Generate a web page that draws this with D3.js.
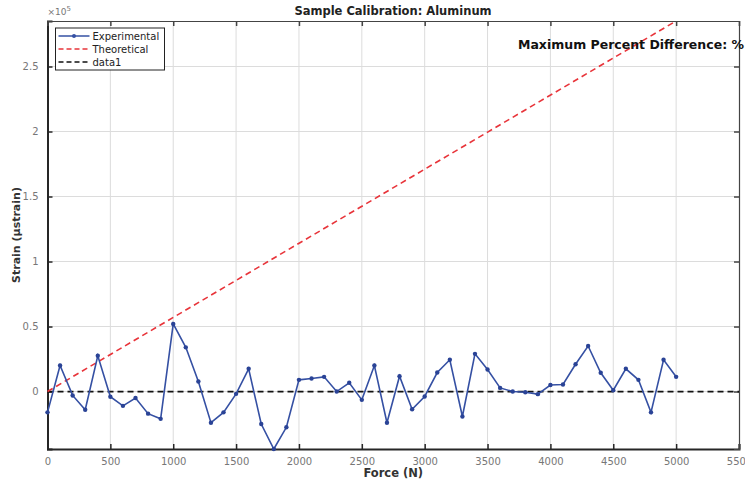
<!DOCTYPE html>
<html>
<head>
<meta charset="utf-8">
<script src="https://cdn.jsdelivr.net/npm/d3@7"></script>
<style>
  body { margin: 0; background: #fff; }
  text { font-family: "DejaVu Sans", sans-serif; }
</style>
</head>
<body>
<div class="chart"></div>
<script>
var svgWidth = 745;
var svgHeight = 482;

var margin = { top: 21, right: 6, bottom: 33, left: 47.5 };
var width = svgWidth - margin.left - margin.right;
var height = svgHeight - margin.top - margin.bottom;

// Force (N)
var force = d3.range(0, 5001, 100);
// experimental strain (x1e4 microstrain)
var experimental = [-1.6, 2.0, -0.3, -1.4, 2.75, -0.4, -1.1, -0.5, -1.7, -2.1,
  5.2, 3.4, 0.77, -2.4, -1.6, -0.18, 1.75, -2.5, -4.42, -2.75,
  0.9, 1.0, 1.13, 0.0, 0.67, -0.64, 2.0, -2.4, 1.18, -1.36,
  -0.38, 1.46, 2.44, -1.92, 2.9, 1.7, 0.28, 0.0, -0.05, -0.2,
  0.5, 0.54, 2.1, 3.5, 1.44, 0.1, 1.75, 0.9, -1.6, 2.44, 1.13]
  .map(d => d * 1e4);
// theoretical strain line
var theoreticalForce = [0, 5000];
var theoreticalStrain = [0, 2.85e5];
var xTicks = [0, 500, 1000, 1500, 2000, 2500, 3000, 3500, 4000, 4500, 5000, 5500];
var yTicks = [0, 0.5e5, 1e5, 1.5e5, 2e5, 2.5e5];
var legendLabels = ["Experimental", "Theoretical", "data1"];

var svg = d3.select(".chart")
  .append("svg")
  .attr("width", svgWidth)
  .attr("height", svgHeight);

var chartGroup = svg.append("g")
  .attr("transform", `translate(${margin.left}, ${margin.top})`);

var x = d3.scaleLinear().domain([0, 5500]).range([0, width]);
var y = d3.scaleLinear().domain([-0.442e5, 2.85e5]).range([height, 0]);

// grid
chartGroup.selectAll(".vgrid").data(xTicks.slice(1, -1)).enter()
  .append("line")
  .attr("x1", d => x(d)).attr("x2", d => x(d))
  .attr("y1", 0).attr("y2", height)
  .attr("stroke", "#dcdcdc").attr("stroke-width", 1);
chartGroup.selectAll(".hgrid").data(yTicks).enter()
  .append("line")
  .attr("x1", 0).attr("x2", width)
  .attr("y1", d => y(d)).attr("y2", d => y(d))
  .attr("stroke", "#dcdcdc").attr("stroke-width", 1);

// axes
var bottomAxis = d3.axisBottom(x).tickValues(xTicks).tickSize(-5).tickPadding(9).tickFormat(d3.format("d"));
var leftAxis = d3.axisLeft(y).tickValues(yTicks).tickSize(-5).tickPadding(9).tickFormat(d => d / 1e5);
var topAxis = d3.axisTop(x).tickValues(xTicks).tickSize(-5).tickFormat("");
var rightAxis = d3.axisRight(y).tickValues(yTicks).tickSize(-5).tickFormat("");

var gb = chartGroup.append("g").attr("transform", `translate(0, ${height})`).call(bottomAxis);
var gl = chartGroup.append("g").call(leftAxis);
var gt = chartGroup.append("g").call(topAxis);
var gr = chartGroup.append("g").attr("transform", `translate(${width}, 0)`).call(rightAxis);

[gb, gl].forEach(function(g) {
  g.select(".domain").attr("stroke", "#262626").attr("stroke-width", 2);
  g.selectAll(".tick line").attr("stroke", "#262626").attr("stroke-width", 1.5);
  g.selectAll("text").attr("fill", "#777").attr("font-size", "10px")
    .attr("font-family", "DejaVu Sans, sans-serif");
});
[gt, gr].forEach(function(g) {
  g.select(".domain").attr("stroke", "#444").attr("stroke-width", 1.2);
  g.selectAll(".tick line").attr("stroke", "#444").attr("stroke-width", 1.5);
});

// zero reference line (data1)
chartGroup.append("line")
  .attr("x1", 0).attr("x2", width)
  .attr("y1", y(0)).attr("y2", y(0))
  .attr("stroke", "#111").attr("stroke-width", 1.8)
  .attr("stroke-dasharray", "6,4");

// theoretical
var line = d3.line().x(d => x(d[0])).y(d => y(d[1]));
chartGroup.append("path")
  .datum(d3.zip(theoreticalForce, theoreticalStrain))
  .attr("d", line)
  .attr("fill", "none")
  .attr("stroke", "#e8343a")
  .attr("stroke-width", 1.6)
  .attr("stroke-dasharray", "6,4");

// experimental
var expData = d3.zip(force, experimental);
chartGroup.append("path")
  .datum(expData)
  .attr("d", line)
  .attr("fill", "none")
  .attr("stroke", "#3550a3")
  .attr("stroke-width", 1.6);
chartGroup.selectAll(".pt").data(expData).enter()
  .append("circle")
  .attr("cx", d => x(d[0]))
  .attr("cy", d => y(d[1]))
  .attr("r", 2.2)
  .attr("fill", "#2a4396");

// legend
var legend = chartGroup.append("g").attr("transform", "translate(8, 7)");
legend.append("rect")
  .attr("width", 109).attr("height", 42)
  .attr("fill", "#fff").attr("stroke", "#222").attr("stroke-width", 1);
var legStyles = [
  { color: "#3550a3", dash: null, marker: true },
  { color: "#e8343a", dash: "5,3", marker: false },
  { color: "#111", dash: "5,3", marker: false }
];
legendLabels.forEach(function(lbl, i) {
  var ly = 8 + i * 13;
  legend.append("line")
    .attr("x1", 3).attr("x2", 34).attr("y1", ly).attr("y2", ly)
    .attr("stroke", legStyles[i].color).attr("stroke-width", 1.5)
    .attr("stroke-dasharray", legStyles[i].dash);
  if (legStyles[i].marker) {
    legend.append("circle").attr("cx", 18.5).attr("cy", ly).attr("r", 2)
      .attr("fill", legStyles[i].color);
  }
  legend.append("text")
    .attr("x", 37).attr("y", ly + 3.5)
    .attr("font-size", "10px").attr("fill", "#222")
    .text(lbl);
});

// exponent label
var exp = svg.append("text")
  .attr("x", margin.left).attr("y", 15)
  .attr("font-size", "9px").attr("fill", "#777");
exp.append("tspan").text("×10");
exp.append("tspan").attr("dy", -4).attr("font-size", "7px").text("5");

// title
svg.append("text")
  .attr("x", 393).attr("y", 15)
  .attr("text-anchor", "middle")
  .attr("font-size", "11.5px").attr("font-weight", "bold").attr("fill", "#222")
  .text("Sample Calibration: Aluminum");

// annotation
svg.append("text")
  .attr("x", 518).attr("y", 49)
  .attr("font-size", "12.5px").attr("font-weight", "bold").attr("fill", "#111")
  .text("Maximum Percent Difference: %");

// axis labels
svg.append("text")
  .attr("transform", `translate(${margin.left + width / 2}, 477)`)
  .attr("text-anchor", "middle")
  .attr("font-size", "11.5px").attr("font-weight", "bold").attr("fill", "#333")
  .text("Force (N)");

svg.append("text")
  .attr("transform", "translate(20, 235) rotate(-90)")
  .attr("text-anchor", "middle")
  .attr("font-size", "11px").attr("font-weight", "bold").attr("fill", "#333")
  .text("Strain (μstrain)");
</script>
</body>
</html>
